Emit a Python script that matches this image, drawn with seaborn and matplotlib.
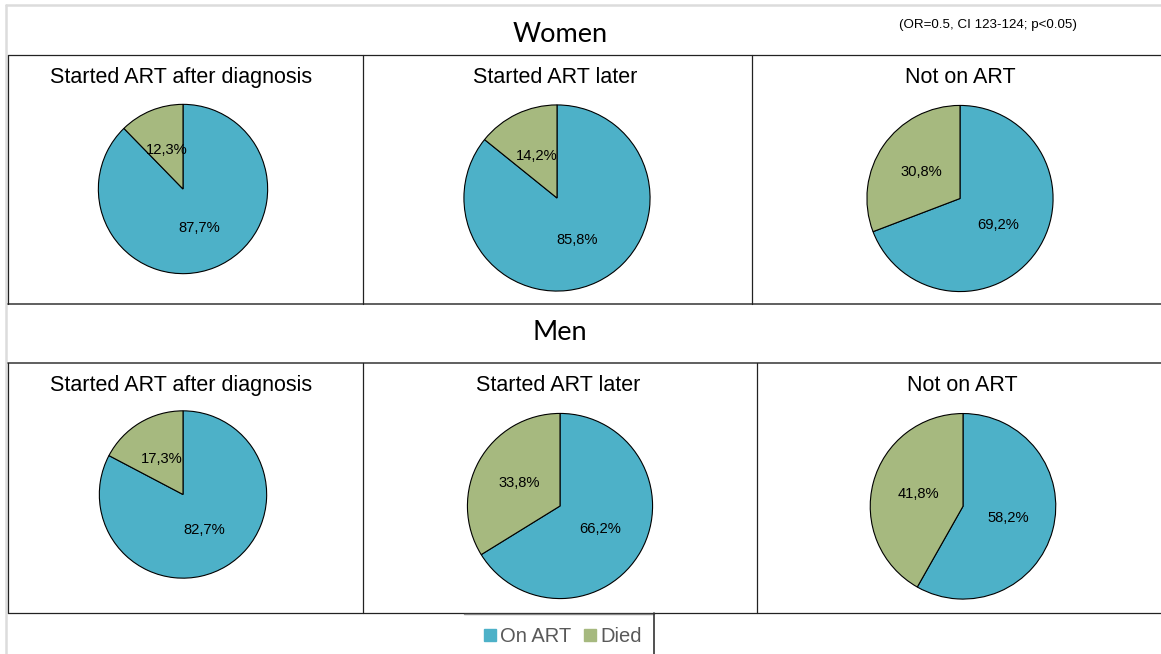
import matplotlib
matplotlib.use("Agg")
import matplotlib.pyplot as plt
from matplotlib.lines import Line2D
import seaborn as sns

# ---- data ----
groups = ["Women", "Men"]
categories = ["Started ART after diagnosis", "Started ART later", "Not on ART"]
outcomes = ["On ART", "Died"]
on_art_women = [87.7, 85.8, 69.2]
died_women = [12.3, 14.2, 30.8]
on_art_men = [82.7, 66.2, 58.2]
died_men = [17.3, 33.8, 41.8]
stats_note = "(OR=0.5, CI 123-124; p<0.05)"

sns.set_theme(style="white")
plt.rcParams["font.family"] = ["Liberation Sans", "DejaVu Sans"]
colors = sns.color_palette(["#4DB1C8", "#A6B97F"])

W, H = 1161, 654
fig = plt.figure(figsize=(W / 100, H / 100), dpi=100)
fig.patch.set_facecolor("white")


def fx(x):
    return x / W


def fy(y):
    return 1 - y / H


def hline(y, x0, x1, color="#222222", lw=0.9):
    fig.add_artist(Line2D([fx(x0), fx(x1)], [fy(y), fy(y)], color=color, lw=lw,
                          transform=fig.transFigure))


def vline(x, y0, y1, color="#222222", lw=0.9):
    fig.add_artist(Line2D([fx(x), fx(x)], [fy(y0), fy(y1)], color=color, lw=lw,
                          transform=fig.transFigure))


# outer frame
hline(5, 6, W, color="#dcdcdc", lw=1.8)
vline(6, 5, H, color="#dcdcdc", lw=1.8)

# panel grid
hline(55, 8, W)
hline(304.5, 8, W, color="#444444", lw=1.2)
hline(362.5, 8, W, color="#444444", lw=1.2)
hline(613, 8, W)
vline(8, 55, 304.5)
vline(8, 362.5, 613)
for x in (362.5, 751.5):
    vline(x, 55, 304.5)
for x in (362.5, 757):
    vline(x, 362.5, 613)

# legend frame
hline(613.5, 464, 654, color="#888888", lw=1.0)
vline(654, 613, H, color="#333333", lw=1.2)

# group headings
row_title_y = [34, 333]
for g, y in zip(groups, row_title_y):
    fig.text(fx(560), fy(y), g, ha="center", va="center", fontsize=19.5,
             family=["Lato", "DejaVu Sans"], color="black")
fig.text(fx(988), fy(25), stats_note, ha="center", va="center", fontsize=9.6,
         color="black")

# pie layout: (center x, center y, radius) in pixels
pie_layout = {
    "Women": [(183, 189, 85.5), (557, 198, 94), (960, 198.5, 94)],
    "Men": [(183, 494.5, 84.5), (560, 506, 93.5), (963, 506.3, 93.7)],
}
panel_title_y = {"Women": 77.5, "Men": 385.5}
panel_title_x = {"Women": [181.5, 555, 960], "Men": [181.5, 558, 962]}

values = {
    "Women": (on_art_women, died_women),
    "Men": (on_art_men, died_men),
}

for g in groups:
    on_vals, died_vals = values[g]
    for i, cat in enumerate(categories):
        cx, cy, r = pie_layout[g][i]
        ax = fig.add_axes([fx(cx - r), fy(cy + r), 2 * r / W, 2 * r / H])
        ax.pie([on_vals[i], died_vals[i]], colors=colors, startangle=90,
               counterclock=False, radius=1,
               autopct=lambda p: f"{p:.1f}%".replace(".", ","),
               pctdistance=0.5,
               wedgeprops=dict(edgecolor="black", linewidth=0.8),
               textprops=dict(fontsize=10.6, color="black"))
        ax.set_xlim(-1.01, 1.01)
        ax.set_ylim(-1.01, 1.01)
        ax.set_aspect("equal")
        ax.axis("off")
        fig.text(fx(panel_title_x[g][i]), fy(panel_title_y[g]), cat,
                 ha="center", va="center", fontsize=15.5, color="black")

# legend
handles = [Line2D([0], [0], marker="s", linestyle="none", markersize=8.5,
                  markerfacecolor=c, markeredgecolor=c) for c in colors]
fig.legend(handles, outcomes, loc="center", bbox_to_anchor=(fx(562), fy(637)),
           ncol=2, frameon=False, fontsize=14.5, labelcolor="#595959",
           handlelength=0.7, handletextpad=0.15, columnspacing=0.6,
           borderpad=0, borderaxespad=0)

fig.savefig("out.png", dpi=100, facecolor="white")
